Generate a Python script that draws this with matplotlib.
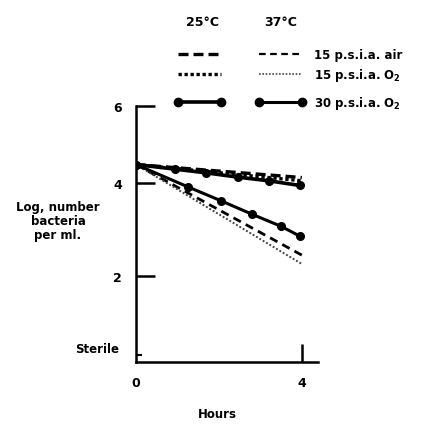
import matplotlib
matplotlib.use("Agg")
import matplotlib.pyplot as plt
from matplotlib.lines import Line2D

plt.rcParams['font.family'] = ['DejaVu Sans']
plt.rcParams['font.weight'] = 'bold'
plt.rcParams['mathtext.default'] = 'bf'

# ---- data (hours, log number bacteria per ml) ----
hours_line = [0, 4]
air15_25 = [4.4, 4.12]
o2_15_25 = [4.4, 4.05]
hours_mk25 = [0, 0.95, 1.7, 2.45, 3.2, 3.95]
o2_30_25 = [4.4, 4.3, 4.22, 4.13, 4.05, 3.95]

air15_37 = [4.4, 2.45]
o2_15_37 = [4.4, 2.26]
hours_mk37 = [0, 1.25, 2.05, 2.8, 3.5, 3.95]
o2_30_37 = [4.4, 3.92, 3.62, 3.33, 3.07, 2.86]

ytick_vals = [2, 4, 5.66]
ytick_labels = ['2', '4', '6']
sterile_val = 0.3
xtick_vals = [0, 4]
xtick_labels = ['0', '4']
legend_labels = ['15 p.s.i.a. air', r'15 p.s.i.a. O$_\mathbf{2}$', r'30 p.s.i.a. O$_\mathbf{2}$']
temps = ['25°C', '37°C']

W, H = 423, 427
fig = plt.figure(figsize=(W / 100, H / 100), dpi=100)
ax = fig.add_axes([136 / W, 1 - 363 / H, (318 - 136) / W, (363 - 107) / H])

# 25 C (heavy)
ax.plot(hours_line, air15_25, color='black', lw=2.4, ls=(0, (3, 1.5)))
ax.plot(hours_line, o2_15_25, color='black', lw=2.4, ls=(0, (1, 0.8)))
ax.plot(hours_mk25, o2_30_25, color='black', lw=2.6, marker='o', ms=5.5)
# 37 C
ax.plot(hours_line, air15_37, color='black', lw=2.0, ls=(0, (3, 2)))
ax.plot(hours_line, o2_15_37, color='#444444', lw=1.4, ls=(0, (1, 1)))
ax.plot(hours_mk37, o2_30_37, color='black', lw=2.2, marker='o', ms=5.5)

ax.set_xlim(0, 4.39)
ax.set_ylim(0.15, 5.66)
for s in ['top', 'right']:
    ax.spines[s].set_visible(False)
for s in ['left', 'bottom']:
    ax.spines[s].set_linewidth(1.8)

ax.set_yticks(ytick_vals)
ax.set_yticklabels(ytick_labels)
ax.set_yticks([sterile_val], minor=True)
ax.set_yticklabels(['Sterile'], minor=True, va='bottom')
ax.set_xticks(xtick_vals)
ax.set_xticklabels(xtick_labels)
ax.tick_params(axis='y', which='major', direction='in', length=14, width=1.8, pad=10, labelsize=9)
ax.tick_params(axis='y', which='minor', direction='in', length=4, width=1.5, pad=12, labelsize=8.5)
ax.tick_params(axis='x', which='major', direction='in', length=13, width=1.8, pad=10, labelsize=9)
ax.xaxis.get_major_ticks()[0].tick1line.set_visible(False)

fig.text(217 / W, 1 - 415 / H, 'Hours', ha='center', va='center', fontsize=8.5, fontweight='bold')
fig.text(58 / W, 1 - 222 / H, 'Log, number\nbacteria\nper ml.', ha='center', va='center',
         multialignment='center', fontsize=8.5, fontweight='bold', linespacing=1.1)

# legend drawn manually
fig.text(202 / W, 1 - 23 / H, temps[0], ha='center', va='center', fontsize=9, fontweight='bold')
fig.text(281 / W, 1 - 23 / H, temps[1], ha='center', va='center', fontsize=9, fontweight='bold')
rows = [55, 75, 103]
styles25 = [dict(lw=2.4, ls=(0, (3, 1.5))), dict(lw=2.4, ls=(0, (1, 0.8))), dict(lw=2.6, marker='o', ms=6)]
styles37 = [dict(lw=1.6, ls=(0, (3, 2))), dict(lw=1.2, ls=(0, (1, 1)), color='#444444'), dict(lw=2.2, marker='o', ms=6)]
for r, s25, s37, lab in zip(rows, styles25, styles37, legend_labels):
    yy = 1 - r / H
    kw = dict(color='black'); kw.update(s25)
    fig.add_artist(Line2D([178 / W, 221 / W], [yy, yy], transform=fig.transFigure, **kw))
    kw = dict(color='black'); kw.update(s37)
    fig.add_artist(Line2D([259 / W, 302 / W], [yy, yy], transform=fig.transFigure, **kw))
    fig.text(314 / W, yy, lab, ha='left', va='center', fontsize=8.5, fontweight='bold')

fig.savefig('out.png', dpi=100)
